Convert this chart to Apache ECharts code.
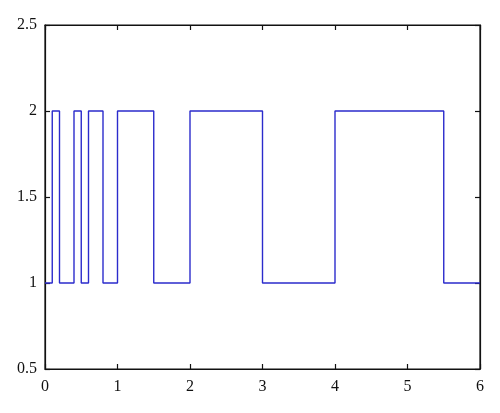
<!DOCTYPE html>
<html>
<head>
<meta charset="utf-8">
<script src="https://cdn.jsdelivr.net/npm/echarts@6/dist/echarts.min.js"></script>
<style>html,body{margin:0;padding:0;background:#fff;}#c{width:500px;height:413px;}</style>
</head>
<body>
<div id="c"></div>
<script>
// switching instants and the level held from each instant until the next
const switchTimes = [0, 0.1, 0.2, 0.4, 0.5, 0.6, 0.8, 1.0, 1.5, 2, 3, 4, 5.5, 6];
const levels = [1, 2, 1, 2, 1, 2, 1, 2, 1, 2, 1, 2, 1, 1];
const xTicks = [0, 1, 2, 3, 4, 5, 6];
const yTicks = [0.5, 1, 1.5, 2, 2.5];

const data = switchTimes.map((t, i) => [t, levels[i]]);
const font = 'Liberation Serif';
const axisLine = () => ({ show: true, onZero: false, lineStyle: { color: '#111', width: 1.2 } });
const tick = () => ({ show: true, inside: true, length: 5, lineStyle: { color: '#111', width: 1.2 } });

const chart = echarts.init(document.getElementById('c'));
chart.setOption({
  animation: false,
  backgroundColor: '#fff',
  grid: { left: 45, right: 20, top: 25, bottom: 44, containLabel: false,
    show: true, borderColor: '#111', borderWidth: 1.2, backgroundColor: 'transparent' },
  xAxis: [
    { type: 'value', min: 0, max: 6, interval: 1, position: 'bottom',
      axisLine: axisLine(), axisTick: tick(), splitLine: { show: false },
      axisLabel: { fontFamily: font, fontSize: 16, color: '#111', margin: 10,
        formatter: v => xTicks.includes(v) ? String(v) : '' } },
    { type: 'value', min: 0, max: 6, interval: 1, position: 'top',
      axisLine: axisLine(), axisTick: tick(), splitLine: { show: false }, axisLabel: { show: false } }
  ],
  yAxis: [
    { type: 'value', min: 0.5, max: 2.5, interval: 0.5, position: 'left',
      axisLine: axisLine(), axisTick: tick(), splitLine: { show: false },
      axisLabel: { fontFamily: font, fontSize: 16, color: '#111', margin: 8,
        formatter: v => yTicks.includes(v) ? String(v) : '' } },
    { type: 'value', min: 0.5, max: 2.5, interval: 0.5, position: 'right',
      axisLine: axisLine(), axisTick: tick(), splitLine: { show: false }, axisLabel: { show: false } }
  ],
  series: [{
    type: 'line', step: 'end', data: data, symbol: 'none',
    lineStyle: { color: '#2b2bcc', width: 1.4 }
  }]
});
</script>
</body>
</html>
